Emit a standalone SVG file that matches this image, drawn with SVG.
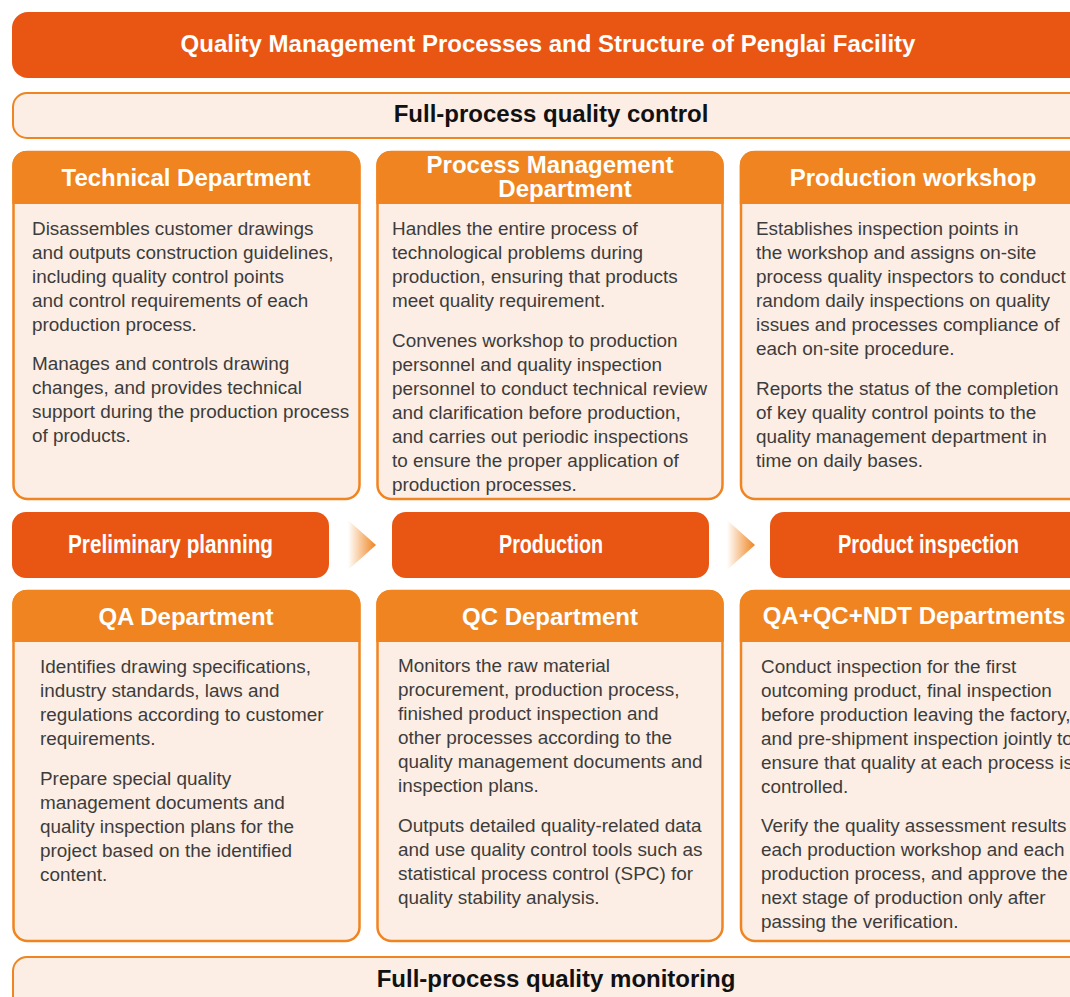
<svg xmlns="http://www.w3.org/2000/svg" width="1070" height="997" viewBox="0 0 1070 997">
<style>
.bg{fill:#FFFFFF}
.title{fill:#E95513}
.stage{fill:#E95513}
.band{fill:#FCEEE4;stroke:#EF8420;stroke-width:2}
.card{fill:#FCEEE4;stroke:#EF8420;stroke-width:2.5}
.hdr{fill:#EF8420}
.tw{font-family:"Liberation Sans",Arial,sans-serif;font-weight:bold;fill:#FFFFFF;text-anchor:middle}
.tb{font-family:"Liberation Sans",Arial,sans-serif;font-weight:bold;fill:#111111;text-anchor:middle;font-size:24px}
.body{font-family:"Liberation Sans",Arial,sans-serif;font-size:18.9px;fill:#3c3c3c}
.st{font-family:"Liberation Sans Narrow","Liberation Sans",Arial,sans-serif;font-weight:bold;fill:#FFFFFF;font-size:25px}
</style>
<defs>
<linearGradient id="arrowGrad" x1="0" y1="0" x2="1" y2="0">
<stop offset="0" stop-color="#EF8420" stop-opacity="0"/>
<stop offset="1" stop-color="#EF8420" stop-opacity="1"/>
</linearGradient>
</defs>
<rect class="bg" x="0" y="0" width="1070" height="997"/>

<g id="title">
<rect class="title" x="12" y="12" width="1075" height="66" rx="16"/>
<text class="tw" x="548" y="52" font-size="24">Quality Management Processes and Structure of Penglai Facility</text>
</g>

<g id="band-control">
<rect class="band" x="13" y="93" width="1074" height="45" rx="14"/>
<text class="tb" x="551" y="122">Full-process quality control</text>
</g>

<g id="technical-department">
<rect class="card" x="13.5" y="152" width="346" height="347" rx="14"/>
<path class="hdr" d="M12.3,204 V165 A14,14 0 0 1 26.3,151 H346.2 A14,14 0 0 1 360.2,165 V204 Z"/>
<text class="tw" x="186" y="186" font-size="24">Technical Department</text>
<text class="body">
<tspan x="32" y="235">Disassembles customer drawings</tspan>
<tspan x="32" y="259">and outputs construction guidelines,</tspan>
<tspan x="32" y="283">including quality control points</tspan>
<tspan x="32" y="307">and control requirements of each</tspan>
<tspan x="32" y="331">production process.</tspan>
<tspan x="32" y="370">Manages and controls drawing</tspan>
<tspan x="32" y="394">changes, and provides technical</tspan>
<tspan x="32" y="418">support during the production process</tspan>
<tspan x="32" y="442">of products.</tspan>
</text>
</g>

<g id="process-management-department">
<rect class="card" x="377.5" y="152" width="345" height="347" rx="14"/>
<path class="hdr" d="M376.3,204 V165 A14,14 0 0 1 390.3,151 H709.7 A14,14 0 0 1 723.7,165 V204 Z"/>
<text class="tw" x="550" y="173" font-size="24">Process Management</text>
<text class="tw" x="565" y="197" font-size="24">Department</text>
<text class="body">
<tspan x="392" y="235">Handles the entire process of</tspan>
<tspan x="392" y="259">technological problems during</tspan>
<tspan x="392" y="283">production, ensuring that products</tspan>
<tspan x="392" y="307">meet quality requirement.</tspan>
<tspan x="392" y="347">Convenes workshop to production</tspan>
<tspan x="392" y="371">personnel and quality inspection</tspan>
<tspan x="392" y="395">personnel to conduct technical review</tspan>
<tspan x="392" y="419">and clarification before production,</tspan>
<tspan x="392" y="443">and carries out periodic inspections</tspan>
<tspan x="392" y="467">to ensure the proper application of</tspan>
<tspan x="392" y="491">production processes.</tspan>
</text>
</g>

<g id="production-workshop">
<rect class="card" x="741" y="152" width="346" height="347" rx="14"/>
<path class="hdr" d="M739.8,204 V165 A14,14 0 0 1 753.8,151 H1074 A14,14 0 0 1 1088,165 V204 Z"/>
<text class="tw" x="913" y="186" font-size="24">Production workshop</text>
<text class="body">
<tspan x="756" y="235">Establishes inspection points in</tspan>
<tspan x="756" y="259">the workshop and assigns on-site</tspan>
<tspan x="756" y="283">process quality inspectors to conduct</tspan>
<tspan x="756" y="307">random daily inspections on quality</tspan>
<tspan x="756" y="331">issues and processes compliance of</tspan>
<tspan x="756" y="355">each on-site procedure.</tspan>
<tspan x="756" y="395">Reports the status of the completion</tspan>
<tspan x="756" y="419">of key quality control points to the</tspan>
<tspan x="756" y="443">quality management department in</tspan>
<tspan x="756" y="467">time on daily bases.</tspan>
</text>
</g>

<g id="stage-preliminary">
<rect class="stage" x="12" y="512" width="317" height="66" rx="14"/>
<text class="st" x="68" y="553" textLength="205" lengthAdjust="spacingAndGlyphs">Preliminary planning</text>
</g>
<g id="stage-production">
<rect class="stage" x="392" y="512" width="317" height="66" rx="14"/>
<text class="st" x="499" y="553" textLength="104" lengthAdjust="spacingAndGlyphs">Production</text>
</g>
<g id="stage-inspection">
<rect class="stage" x="770" y="512" width="317" height="66" rx="14"/>
<text class="st" x="838" y="553" textLength="181" lengthAdjust="spacingAndGlyphs">Product inspection</text>
</g>

<g id="connectors">
<polygon points="348,520 376,545 348,570" fill="url(#arrowGrad)"/>
<polygon points="727,520 755,545 727,570" fill="url(#arrowGrad)"/>
</g>

<g id="qa-department">
<rect class="card" x="13.5" y="591" width="346" height="350" rx="14"/>
<path class="hdr" d="M12.3,642 V604 A14,14 0 0 1 26.3,590 H346.2 A14,14 0 0 1 360.2,604 V642 Z"/>
<text class="tw" x="186" y="625" font-size="24">QA Department</text>
<text class="body">
<tspan x="40" y="673">Identifies drawing specifications,</tspan>
<tspan x="40" y="697">industry standards, laws and</tspan>
<tspan x="40" y="721">regulations according to customer</tspan>
<tspan x="40" y="745">requirements.</tspan>
<tspan x="40" y="785">Prepare special quality</tspan>
<tspan x="40" y="809">management documents and</tspan>
<tspan x="40" y="833">quality inspection plans for the</tspan>
<tspan x="40" y="857">project based on the identified</tspan>
<tspan x="40" y="881">content.</tspan>
</text>
</g>

<g id="qc-department">
<rect class="card" x="377.5" y="591" width="345" height="350" rx="14"/>
<path class="hdr" d="M376.3,642 V604 A14,14 0 0 1 390.3,590 H709.7 A14,14 0 0 1 723.7,604 V642 Z"/>
<text class="tw" x="550" y="625" font-size="24">QC Department</text>
<text class="body">
<tspan x="398" y="672">Monitors the raw material</tspan>
<tspan x="398" y="696">procurement, production process,</tspan>
<tspan x="398" y="720">finished product inspection and</tspan>
<tspan x="398" y="744">other processes according to the</tspan>
<tspan x="398" y="768">quality management documents and</tspan>
<tspan x="398" y="792">inspection plans.</tspan>
<tspan x="398" y="832">Outputs detailed quality-related data</tspan>
<tspan x="398" y="856">and use quality control tools such as</tspan>
<tspan x="398" y="880">statistical process control (SPC) for</tspan>
<tspan x="398" y="904">quality stability analysis.</tspan>
</text>
</g>

<g id="qa-qc-ndt-departments">
<rect class="card" x="741" y="591" width="346" height="350" rx="14"/>
<path class="hdr" d="M739.8,642 V604 A14,14 0 0 1 753.8,590 H1074 A14,14 0 0 1 1088,604 V642 Z"/>
<text class="tw" x="914" y="624" font-size="24">QA+QC+NDT Departments</text>
<text class="body">
<tspan x="761" y="673">Conduct inspection for the first</tspan>
<tspan x="761" y="697">outcoming product, final inspection</tspan>
<tspan x="761" y="721">before production leaving the factory,</tspan>
<tspan x="761" y="745">and pre-shipment inspection jointly to</tspan>
<tspan x="761" y="769">ensure that quality at each process is</tspan>
<tspan x="761" y="793">controlled.</tspan>
<tspan x="761" y="832">Verify the quality assessment results of</tspan>
<tspan x="761" y="856">each production workshop and each</tspan>
<tspan x="761" y="880">production process, and approve the</tspan>
<tspan x="761" y="904">next stage of production only after</tspan>
<tspan x="761" y="928">passing the verification.</tspan>
</text>
</g>

<g id="band-monitoring">
<rect class="band" x="13" y="957" width="1074" height="60" rx="14"/>
<text class="tb" x="556" y="987">Full-process quality monitoring</text>
</g>
</svg>
